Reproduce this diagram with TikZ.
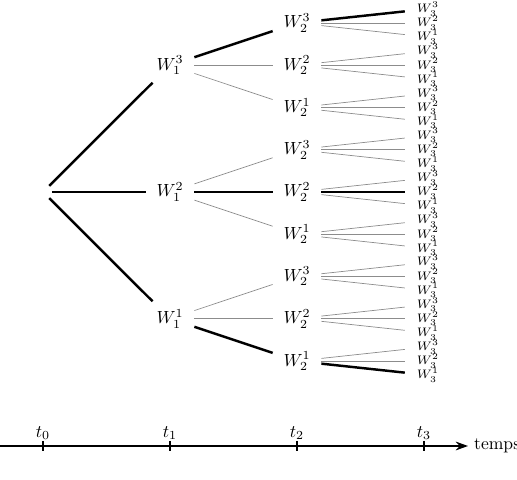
\documentclass[tikz,border=0pt]{standalone}
\usetikzlibrary{arrows.meta}
\begin{document}
\begin{tikzpicture}[x=0.5682pt,y=-0.5682pt,
  wn/.style={rectangle,minimum width=27.3pt,minimum height=19.3pt,inner sep=0pt},
  wsmall/.style={rectangle,minimum width=26pt,minimum height=8pt,inner sep=0pt,font=\scriptsize},
  heavy/.style={line width=1.4pt,black},
  light/.style={line width=0.4pt,black!45},
  axisline/.style={line width=0.8pt},
  tickmark/.style={line width=0.6pt}]
\useasboundingbox (0,0) rectangle (517,480);
\node[circle,minimum size=9.6pt,inner sep=0pt] (r) at (43,192) {};
\foreach \i/\yy in {3/65.3,2/192,1/318.7} {
  \node[wn] (a\i) at (170,\yy) {$W_1^{\i}$};
  \foreach \j in {3,2,1} {
    \pgfmathsetmacro\yb{\yy+(2-\j)*42.33}
    \node[wn] (b\i\j) at (297,\yb) {$W_2^{\j}$};
    \foreach \k in {3,2,1} {
      \pgfmathsetmacro\yc{\yb+(2-\k)*14.11}
      \node[wsmall] (c\i\j\k) at (428,\yc) {$W_3^{\k}$};
    }
  }
}
\foreach \i in {1,2,3} {
  \draw[heavy] (r) -- (a\i);
  \foreach \j in {1,2,3} {
    \ifnum\i=\j
      \draw[heavy] (a\i) -- (b\i\j);
    \else
      \draw[light] (a\i) -- (b\i\j);
    \fi
    \foreach \k in {1,2,3} {
      \pgfmathtruncatemacro\hv{and(\i==\j,\j==\k)}
      \ifnum\hv=1
        \draw[heavy] (b\i\j) -- (c\i\j\k);
      \else
        \draw[light] (b\i\j) -- (c\i\j\k);
      \fi
    }
  }
}
\coordinate (ax0) at (0,446);
\coordinate (ax1) at (468,446);
\draw[axisline,-{Stealth[length=7pt,width=5pt]}] (ax0) -- (ax1);
\node[right,inner sep=3.3pt] (tp) at (ax1) {temps};
\foreach \n/\x in {0/43,1/170,2/297,3/424} {
  \draw[tickmark] (\x,441) -- (\x,451);
  \node[above,inner sep=1pt] (t\n) at (\x,442) {$t_{\n}$};
}
\end{tikzpicture}
\end{document}
